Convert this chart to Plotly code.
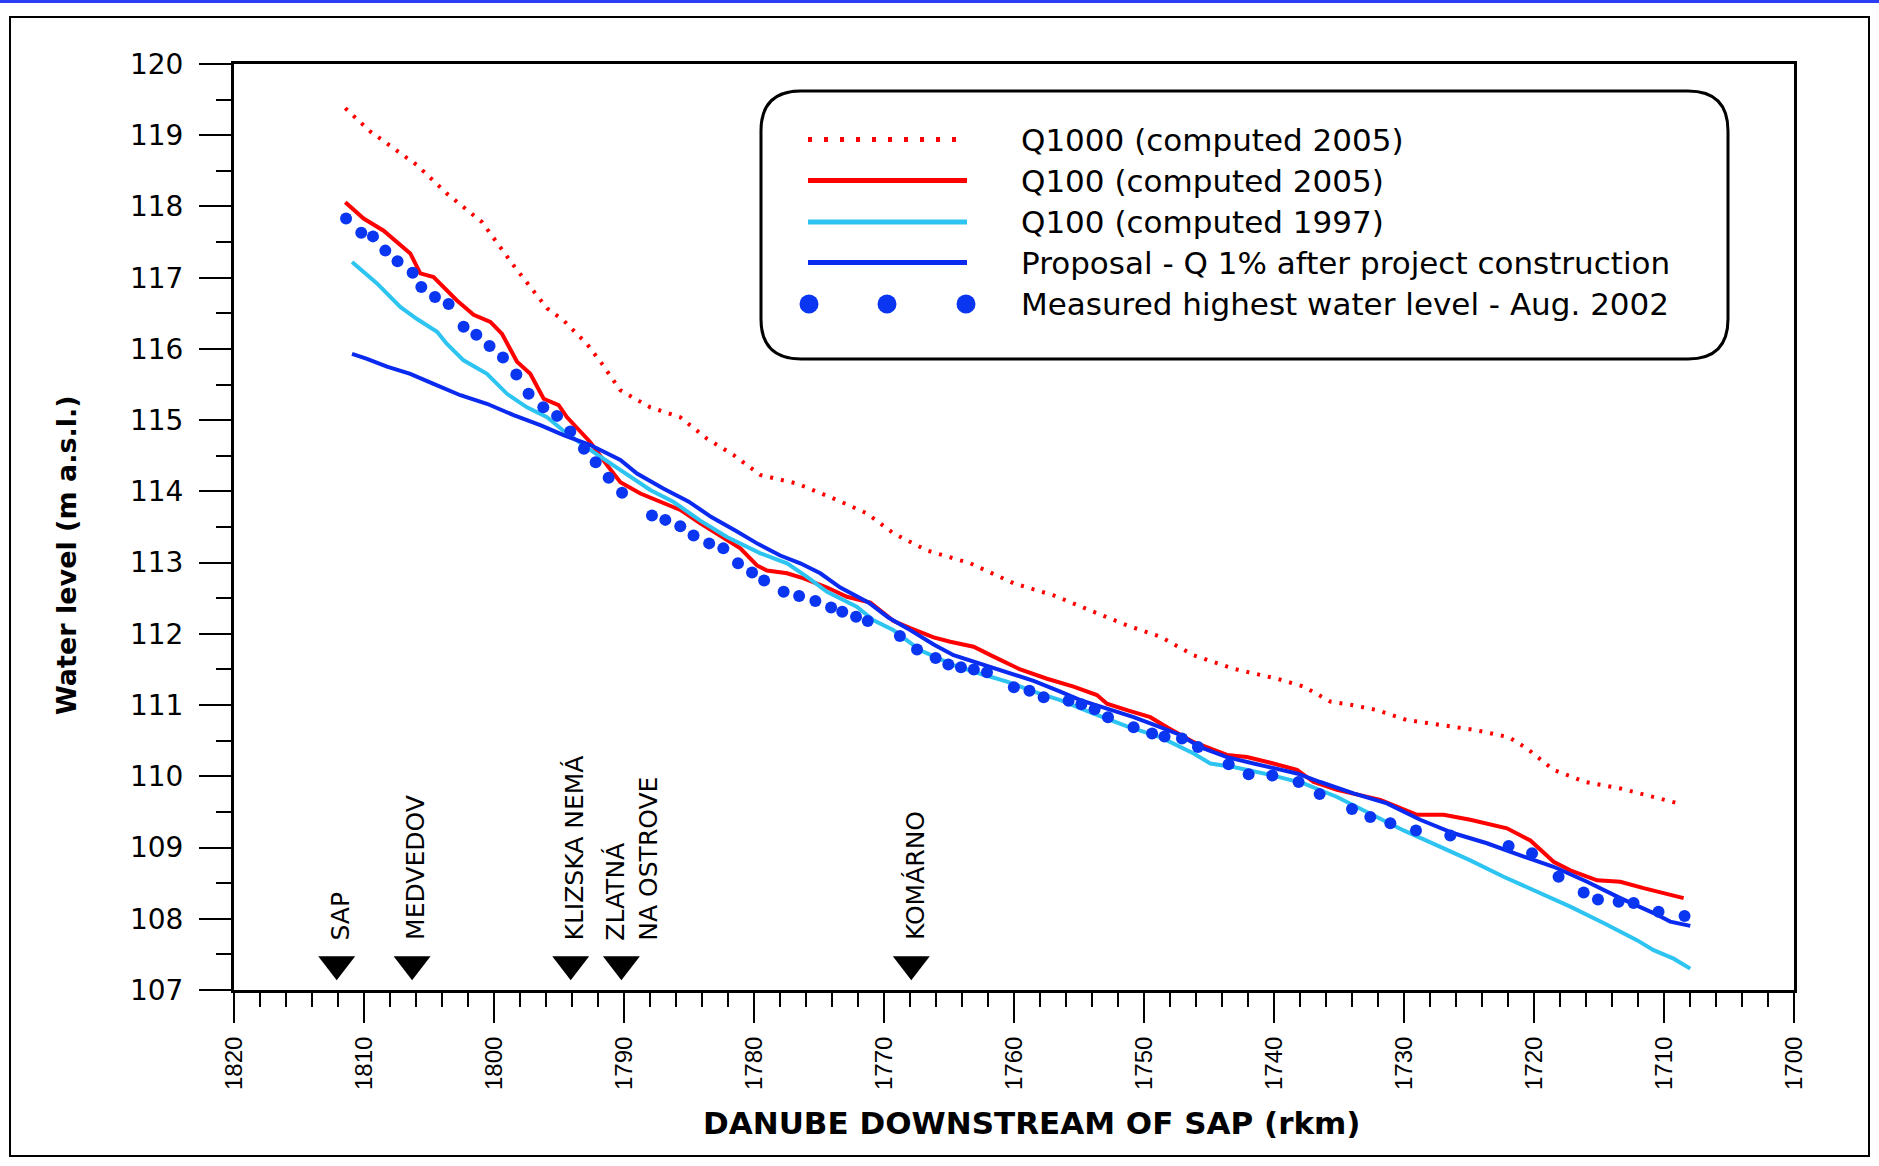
import plotly.graph_objects as go

# ---------------- data ----------------
rkm_q1000_2005 = [1811.44, 1809.5, 1805.92, 1803.62, 1800.92, 1798.49, 1795.92, 1794.65, 1792.85,
                  1791.69, 1790.28, 1787.98, 1785.67, 1783.62, 1781.57, 1779.51, 1776.69, 1773.62,
                  1771.31, 1769.26, 1766.69, 1763.36, 1760.03, 1756.95, 1753.62, 1751.31, 1748.75,
                  1746.18, 1743.11, 1739.77, 1737.72, 1735.67, 1734.0, 1732.08, 1729.77, 1727.21,
                  1724.52, 1721.95, 1720.54, 1718.49, 1716.05, 1713.36, 1709.9, 1709.13]
lvl_q1000_2005 = [119.38, 119.05, 118.58, 118.18, 117.78, 117.17, 116.57, 116.40, 116.07,
                  115.79, 115.42, 115.18, 115.04, 114.74, 114.51, 114.23, 114.11, 113.88,
                  113.69, 113.41, 113.17, 112.99, 112.71, 112.54, 112.29, 112.12, 111.96,
                  111.70, 111.51, 111.37, 111.26, 111.05, 111.00, 110.93, 110.79, 110.72,
                  110.65, 110.55, 110.39, 110.09, 109.92, 109.83, 109.66, 109.63]

rkm_q100_2005 = [1811.44, 1810.03, 1808.49, 1806.44, 1805.67, 1804.65, 1802.85, 1801.57, 1800.28,
                 1799.38, 1798.23, 1797.21, 1796.18, 1795.03, 1794.38, 1792.59, 1791.31, 1790.28,
                 1788.74, 1786.69, 1785.67, 1784.13, 1782.08, 1781.05, 1779.77, 1779.0, 1777.46,
                 1776.18, 1774.38, 1772.85, 1771.05, 1769.26, 1767.98, 1766.18, 1764.90, 1763.11,
                 1761.57, 1759.52, 1757.46, 1755.42, 1753.62, 1752.85, 1751.31, 1749.52, 1748.23,
                 1746.18, 1743.62, 1742.08, 1740.05, 1738.23, 1736.95, 1735.15, 1731.82, 1729.0,
                 1726.95, 1724.9, 1722.08, 1720.28, 1718.49, 1717.21, 1715.15, 1713.36, 1711.57,
                 1708.49]
lvl_q100_2005 = [118.06, 117.83, 117.66, 117.34, 117.06, 117.01, 116.68, 116.48, 116.38,
                 116.21, 115.82, 115.65, 115.30, 115.21, 115.04, 114.69, 114.37, 114.13,
                 113.97, 113.81, 113.74, 113.55, 113.31, 113.20, 112.96, 112.89, 112.85,
                 112.78, 112.65, 112.52, 112.44, 112.18, 112.08, 111.95, 111.89, 111.82,
                 111.68, 111.50, 111.37, 111.26, 111.14, 111.02, 110.93, 110.83, 110.69,
                 110.48, 110.30, 110.27, 110.18, 110.09, 109.92, 109.81, 109.67, 109.46,
                 109.46, 109.39, 109.27, 109.10, 108.80, 108.68, 108.54, 108.52, 108.43,
                 108.29]

rkm_q100_1997 = [1810.92, 1809.0, 1807.21, 1805.92, 1804.38, 1803.62, 1802.34, 1800.54, 1799.0,
                 1797.46, 1795.92, 1794.38, 1792.34, 1790.28, 1787.98, 1786.18, 1784.13, 1782.08,
                 1779.51, 1777.46, 1775.92, 1774.38, 1772.1, 1770.80, 1769.26, 1767.21, 1764.65,
                 1762.59, 1760.54, 1758.49, 1756.44, 1753.88, 1751.31, 1748.75, 1746.18, 1744.9,
                 1743.11, 1740.05, 1737.72, 1735.15, 1732.59, 1730.03, 1727.46, 1724.9, 1722.34,
                 1719.77, 1717.21, 1714.65, 1712.08, 1710.8, 1709.26, 1707.98]
lvl_q100_1997 = [117.22, 116.92, 116.59, 116.42, 116.24, 116.07, 115.84, 115.65, 115.37,
                 115.18, 115.04, 114.81, 114.55, 114.30, 114.02, 113.85, 113.59, 113.36,
                 113.13, 112.99, 112.80, 112.59, 112.38, 112.19, 112.05, 111.77, 111.56,
                 111.44, 111.33, 111.19, 111.07, 110.88, 110.70, 110.55, 110.32, 110.18,
                 110.13, 110.01, 109.90, 109.71, 109.48, 109.24, 109.03, 108.82, 108.59,
                 108.38, 108.17, 107.94, 107.70, 107.56, 107.44, 107.30]

rkm_proposal = [1810.92, 1809.77, 1808.23, 1806.44, 1804.65, 1802.59, 1800.54, 1798.49, 1796.44,
                1794.65, 1792.59, 1790.28, 1789.0, 1786.98, 1785.05, 1783.28, 1781.44, 1779.67,
                1777.98, 1776.44, 1774.9, 1773.36, 1771.2, 1769.67, 1768.23, 1766.18, 1764.65,
                1762.59, 1760.54, 1758.49, 1756.44, 1754.9, 1752.85, 1750.8, 1748.75, 1747.21,
                1745.67, 1743.62, 1741.57, 1740.05, 1738.23, 1736.44, 1733.88, 1731.31, 1728.75,
                1726.18, 1723.62, 1721.05, 1718.49, 1715.92, 1713.36, 1710.8, 1709.52, 1707.98]
lvl_proposal = [115.93, 115.86, 115.75, 115.65, 115.51, 115.35, 115.23, 115.07, 114.93,
                114.79, 114.65, 114.44, 114.25, 114.04, 113.86, 113.64, 113.45, 113.26,
                113.10, 112.99, 112.85, 112.65, 112.44, 112.23, 112.08, 111.85, 111.70,
                111.58, 111.47, 111.34, 111.19, 111.07, 110.95, 110.83, 110.69, 110.58,
                110.41, 110.27, 110.18, 110.11, 110.04, 109.92, 109.76, 109.62, 109.39,
                109.20, 109.06, 108.89, 108.73, 108.52, 108.29, 108.08, 107.96, 107.90]

rkm_measured = [1811.38, 1810.21, 1809.31, 1808.36, 1807.42, 1806.26, 1805.59, 1804.54, 1803.49,
                1802.34, 1801.36, 1800.34, 1799.31, 1798.28, 1797.34, 1796.21, 1795.15, 1794.13,
                1793.08, 1792.18, 1791.18, 1790.15, 1787.85, 1786.82, 1785.67, 1784.65, 1783.45,
                1782.36, 1781.23, 1780.15, 1779.22, 1777.72, 1776.53, 1775.28, 1774.07, 1773.21,
                1772.15, 1771.25, 1768.78, 1767.46, 1766.03, 1765.05, 1764.08, 1763.09, 1762.08,
                1760.01, 1758.81, 1757.72, 1755.8, 1754.82, 1753.80, 1752.77, 1750.80, 1749.38,
                1748.42, 1747.08, 1745.85, 1743.49, 1741.95, 1740.13, 1738.11, 1736.49, 1734.0,
                1732.59, 1731.05, 1729.08, 1726.44, 1721.95, 1720.15, 1718.11, 1716.18, 1715.08,
                1713.49, 1712.34, 1710.42, 1708.42]
lvl_measured = [117.83, 117.63, 117.58, 117.38, 117.23, 117.07, 116.87, 116.73, 116.63,
                116.31, 116.20, 116.04, 115.88, 115.64, 115.37, 115.18, 115.06, 114.84,
                114.60, 114.41, 114.19, 113.98, 113.66, 113.60, 113.51, 113.38, 113.27,
                113.20, 112.99, 112.86, 112.75, 112.59, 112.53, 112.46, 112.37, 112.31,
                112.24, 112.18, 111.97, 111.78, 111.66, 111.57, 111.53, 111.50, 111.46,
                111.25, 111.20, 111.11, 111.06, 111.01, 110.94, 110.83, 110.69, 110.60,
                110.56, 110.53, 110.41, 110.17, 110.03, 110.01, 109.92, 109.75, 109.54,
                109.43, 109.34, 109.24, 109.17, 109.02, 108.92, 108.59, 108.37, 108.27,
                108.24, 108.22, 108.10, 108.04]

station_names = ["SAP", "MEDVEDOV", "KLIZSKA NEMÁ", "ZLATNÁ<br>NA OSTROVE", "KOMÁRNO"]
station_rkm = [1812.1, 1806.3, 1794.1, 1790.2, 1767.9]

series_names = ["Q1000 (computed 2005)", "Q100 (computed 2005)", "Q100 (computed 1997)",
                "Proposal - Q 1% after project construction",
                "Measured highest water level - Aug. 2002"]

x_ticks = list(range(1820, 1699, -10))
y_ticks = list(range(107, 121))

# ---------------- styling ----------------
RED = "#ff0000"
CYAN = "#2ec4f2"
BLUE = "#0a2af0"
DOTS = "#0a36f2"
FONT = "DejaVu Sans"
FONT_NUM = "Liberation Sans"

W, H = 1879, 1166
L, R, T, B = 234, 85, 64, 176
PW, PH = W - L - R, H - T - B


def px(x):
    return (x - L) / PW


def py(y):
    return (H - B - y) / PH


fig = go.Figure()
fig.add_trace(go.Scatter(x=rkm_q1000_2005, y=lvl_q1000_2005, mode="lines", name=series_names[0],
                         line=dict(color=RED, width=4, dash="3px,8px")))
fig.add_trace(go.Scatter(x=rkm_q100_2005, y=lvl_q100_2005, mode="lines", name=series_names[1],
                         line=dict(color=RED, width=4)))
fig.add_trace(go.Scatter(x=rkm_q100_1997, y=lvl_q100_1997, mode="lines", name=series_names[2],
                         line=dict(color=CYAN, width=4)))
fig.add_trace(go.Scatter(x=rkm_proposal, y=lvl_proposal, mode="lines", name=series_names[3],
                         line=dict(color=BLUE, width=4)))
fig.add_trace(go.Scatter(x=rkm_measured, y=lvl_measured, mode="markers", name=series_names[4],
                         marker=dict(color=DOTS, size=12, line=dict(width=0))))
# station markers
fig.add_trace(go.Scatter(x=station_rkm, y=[107.36] * len(station_rkm), mode="markers",
                         marker=dict(symbol="triangle-down", size=32, color="black",
                                     line=dict(width=0)),
                         hoverinfo="text", text=station_names, showlegend=False))

annotations = []
shapes = []

# station labels
for name, rk in zip(station_names, station_rkm):
    shift = 11 if "<br>" in name else 4
    annotations.append(dict(x=rk, y=107.67, xref="x", yref="y", text=name, showarrow=False,
                            textangle=-90, xanchor="center", yanchor="bottom", align="left",
                            xshift=shift, font=dict(family=FONT, size=25, color="black")))

# axis titles
annotations.append(dict(x=px(1032), y=py(1123), xref="paper", yref="paper",
                        text="<b>DANUBE DOWNSTREAM OF SAP (rkm)</b>", showarrow=False,
                        xanchor="center", yanchor="middle",
                        font=dict(family=FONT, size=31, color="black")))
annotations.append(dict(x=px(66), y=py(555), xref="paper", yref="paper",
                        text="<b>Water level (m a.s.l.)</b>", showarrow=False, textangle=-90,
                        xanchor="center", yanchor="middle",
                        font=dict(family=FONT, size=27, color="black")))

# outer frame and top blue rule
shapes.append(dict(type="rect", xref="paper", yref="paper", x0=px(10), x1=px(1869),
                   y0=py(1156), y1=py(17), line=dict(color="black", width=2), layer="below"))
shapes.append(dict(type="line", xref="paper", yref="paper", x0=px(0), x1=px(W),
                   y0=py(1.5), y1=py(1.5), line=dict(color="#2b3cf5", width=3)))

# custom legend box (rounded)
bx0, bx1, by0, by1, rr = 761, 1728, 91, 359, 40
pts = [("M", bx0 + rr, by0), ("L", bx1 - rr, by0), ("Q", bx1, by0, bx1, by0 + rr),
       ("L", bx1, by1 - rr), ("Q", bx1, by1, bx1 - rr, by1), ("L", bx0 + rr, by1),
       ("Q", bx0, by1, bx0, by1 - rr), ("L", bx0, by0 + rr), ("Q", bx0, by0, bx0 + rr, by0)]
path = ""
for p in pts:
    cmd = p[0]
    coords = p[1:]
    seg = []
    for i in range(0, len(coords), 2):
        seg.append(f"{px(coords[i]):.5f},{py(coords[i + 1]):.5f}")
    path += cmd + " ".join(seg) + " "
path += "Z"
shapes.append(dict(type="path", xref="paper", yref="paper", path=path,
                   line=dict(color="black", width=3), fillcolor="white", layer="above"))

row_y = [139.5, 180.5, 222, 262.5, 304]
sample_styles = [dict(color=RED, width=5, dash="4px,12px"), dict(color=RED, width=5),
                 dict(color=CYAN, width=5), dict(color=BLUE, width=5)]
for yy, st in zip(row_y[:4], sample_styles):
    shapes.append(dict(type="line", xref="paper", yref="paper", x0=px(808), x1=px(967),
                       y0=py(yy), y1=py(yy), line=st, layer="above"))
for cx in (809, 887, 966):
    shapes.append(dict(type="circle", xref="paper", yref="paper", xsizemode="pixel",
                       ysizemode="pixel", xanchor=px(cx), yanchor=py(row_y[4]),
                       x0=-9.5, x1=9.5, y0=-9.5, y1=9.5, fillcolor=DOTS,
                       line=dict(width=0), layer="above"))
for yy, name in zip(row_y, series_names):
    annotations.append(dict(x=px(1019), y=py(yy), xref="paper", yref="paper", text=name,
                            showarrow=False, xanchor="left", yanchor="middle",
                            font=dict(family=FONT, size=31, color="black")))

fig.update_layout(
    width=W, height=H,
    margin=dict(l=L, r=R, t=T, b=B, autoexpand=False),
    paper_bgcolor="white", plot_bgcolor="white",
    showlegend=False,
    font=dict(family=FONT, color="black"),
    annotations=annotations, shapes=shapes,
    xaxis=dict(range=[1820, 1700], tickvals=x_ticks, ticktext=[str(v) for v in x_ticks],
               tickangle=-90, ticks="outside", ticklen=30, tickwidth=2, tickcolor="black",
               showline=True, linecolor="black", linewidth=3, mirror=True,
               showgrid=False, zeroline=False, ticklabelstandoff=4,
               tickfont=dict(family=FONT_NUM, size=24, color="black"),
               minor=dict(dtick=2, tick0=1700, ticks="outside", ticklen=14, tickwidth=2,
                          tickcolor="black", showgrid=False)),
    yaxis=dict(range=[107, 120], tickvals=y_ticks, ticktext=[str(v) for v in y_ticks],
               ticks="outside", ticklen=32, tickwidth=2, tickcolor="black",
               showline=True, linecolor="black", linewidth=3, mirror=True,
               showgrid=False, zeroline=False, ticklabelstandoff=10,
               tickfont=dict(family=FONT, size=28, color="black"),
               minor=dict(dtick=0.5, tick0=107, ticks="outside", ticklen=15, tickwidth=2,
                          tickcolor="black", showgrid=False)),
)

fig.write_html("out.html")
